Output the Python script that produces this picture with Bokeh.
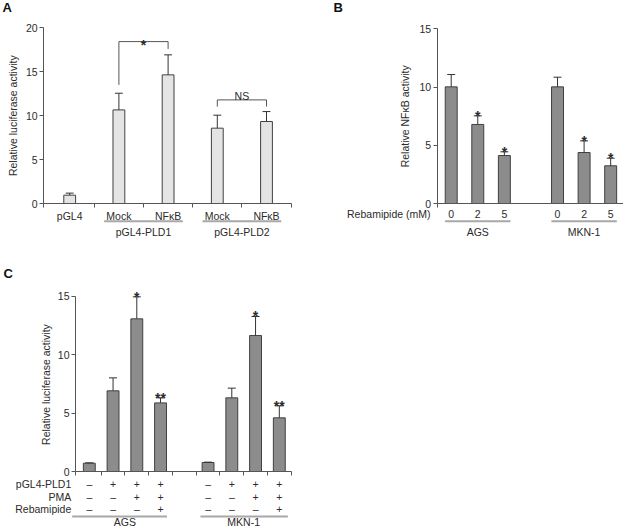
import numpy as np
from bokeh.plotting import figure
from bokeh.models import Range1d, FixedTicker, Spacer
from bokeh.layouts import row, column
from bokeh.core.properties import value
from bokeh.embed import file_html
from bokeh.resources import INLINE

# ---------------- data ----------------
# Panel A
a_labels = ["pGL4", "Mock", "NFκB", "Mock", "NFκB"]
a_pos = [0, 1, 2, 3, 4]
a_values = [0.95, 10.66, 14.65, 8.58, 9.34]
a_err_top = [1.18, 12.56, 16.93, 10.06, 10.47]
a_groups = ["pGL4-PLD1", "pGL4-PLD2"]
a_group_first = [1, 3]
a_group_last = [2, 4]
a_br_left = [1, 3]
a_br_right = [2, 4]
a_br_top = [18.44, 11.8]
a_br_left_bottom = [13.51, 11.04]
a_br_right_bottom = [17.6, 11.04]
a_br_text = ["*", "NS"]
a_yticks = [0, 5, 10, 15, 20]

# Panel B
b_doses = ["0", "2", "5", "0", "2", "5"]
b_pos = [0, 1, 2, 4, 5, 6]
b_values = [10.02, 6.79, 4.12, 10.02, 4.38, 3.24]
b_err_top = [11.08, 7.53, 4.44, 10.85, 5.38, 3.89]
b_marks = ["", "*", "*", "", "*", "*"]
b_groups = ["AGS", "MKN-1"]
b_group_first = [0, 4]
b_group_last = [2, 6]
b_yticks = [0, 5, 10, 15]

# Panel C
c_pos = [0, 1, 2, 3, 5, 6, 7, 8]
c_values = [0.71, 6.9, 13.06, 5.87, 0.77, 6.3, 11.63, 4.59]
c_err_top = [0.74, 8.01, 14.94, 6.3, 0.8, 7.13, 13.26, 5.62]
c_marks = ["", "", "*", "**", "", "", "*", "**"]
c_rows = ["pGL4-PLD1", "PMA", "Rebamipide"]
c_pld1 = ["–", "+", "+", "+", "–", "+", "+", "+"]
c_pma = ["–", "–", "+", "+", "–", "–", "+", "+"]
c_reb = ["–", "–", "–", "+", "–", "–", "–", "+"]
c_groups = ["AGS", "MKN-1"]
c_group_first = [0, 5]
c_group_last = [3, 8]
c_yticks = [0, 5, 10, 15]

# ---------------- style ----------------
FONT = "Liberation Sans"
AX = "#555555"
TXT = "#2b2b2b"
ERR = "#333333"
LIGHT_FILL = "#e4e4e4"
DARK_FILL = "#8c8c8c"
BAR_LINE = "#404040"
ULINE = "#a8a8a8"
STAR_SIZE = "14px"


def make_fig(w, h, x0_px, y0_px, xorig, ppx, yorig, ppy):
    """Frame covers the whole figure; ranges derived from the panel geometry."""
    x_start = (x0_px - xorig) / ppx
    x_end = (x0_px + w - xorig) / ppx
    y_end = (yorig - y0_px) / ppy
    y_start = (yorig - y0_px - h) / ppy
    p = figure(width=w, height=h, output_backend="svg", toolbar_location=None,
               x_range=Range1d(x_start, x_end), y_range=Range1d(y_start, y_end),
               min_border_left=0, min_border_right=0,
               min_border_top=0, min_border_bottom=0)
    p.xgrid.visible = False
    p.ygrid.visible = False
    p.outline_line_color = None
    p.background_fill_color = "white"
    p.border_fill_color = "white"
    return p, x_end


def style_axes(p, y_axis_at, x_end, xticks, yticks, ybounds):
    xa = p.xaxis[0]
    xa.fixed_location = 0
    xa.bounds = (y_axis_at, x_end)
    xa.ticker = FixedTicker(ticks=[], minor_ticks=xticks)
    xa.major_tick_out = 0
    xa.major_tick_in = 0
    xa.minor_tick_out = 4
    xa.minor_tick_in = 0
    xa.axis_line_color = AX
    xa.minor_tick_line_color = AX
    ya = p.yaxis[0]
    ya.fixed_location = y_axis_at
    ya.ticker = FixedTicker(ticks=yticks, minor_ticks=[])
    ya.bounds = ybounds
    ya.major_tick_out = 4
    ya.major_tick_in = 0
    ya.minor_tick_out = 0
    ya.minor_tick_in = 0
    ya.axis_line_color = AX
    ya.major_tick_line_color = AX
    ya.major_label_text_font = FONT
    ya.major_label_text_font_size = "10.5px"
    ya.major_label_text_color = TXT
    ya.major_label_standoff = 2


def bars_with_err(p, pos, vals, errs, width, fill, cap):
    p.vbar(x=pos, top=vals, bottom=0, width=width, fill_color=fill,
           line_color=BAR_LINE, line_width=1)
    p.segment(x0=pos, y0=vals, x1=pos, y1=errs, line_color=ERR, line_width=1)
    p.segment(x0=[x - cap for x in pos], y0=errs, x1=[x + cap for x in pos],
              y1=errs, line_color=ERR, line_width=1)


def txt(p, x, y, t, size="10.5px", align="center", baseline="middle",
        angle=0.0, bold=False, color=TXT):
    p.text(x=x, y=y, text=t, text_font=value(FONT), text_font_size=size,
           text_align=align, text_baseline=baseline, text_color=color,
           angle=angle, text_font_style="bold" if bold else "normal")


# ---------------- panel A ----------------
pA, a_xend = make_fig(305, 262, 0, 0, 69.2, 49.2, 203, 8.78)
style_axes(pA, -0.53, 4.5, [-0.53, 0.5, 1.5, 2.5, 3.5, 4.5], a_yticks, (0, 20))
bars_with_err(pA, a_pos, a_values, a_err_top, 0.24, LIGHT_FILL, 0.08)
pA.segment(x0=a_br_left, y0=a_br_top, x1=a_br_right, y1=a_br_top, line_color=AX, line_width=1)
pA.segment(x0=a_br_left, y0=a_br_left_bottom, x1=a_br_left, y1=a_br_top, line_color=AX, line_width=1)
pA.segment(x0=a_br_right, y0=a_br_right_bottom, x1=a_br_right, y1=a_br_top, line_color=AX, line_width=1)
br_mid = [(l + r) / 2 for l, r in zip(a_br_left, a_br_right)]
txt(pA, [br_mid[0]], [a_br_top[0] - 0.4], [a_br_text[0]], size=STAR_SIZE,
    baseline="alphabetic", bold=True)
txt(pA, [br_mid[1]], [a_br_top[1] + 0.46], [a_br_text[1]], baseline="alphabetic")
txt(pA, a_pos, [-1.37] * len(a_pos), a_labels)
pA.segment(x0=[f - 0.3 for f in a_group_first], y0=[-2.02] * 2,
           x1=[l + 0.3 for l in a_group_last], y1=[-2.02] * 2,
           line_color=ULINE, line_width=2)
txt(pA, [(f + l) / 2 for f, l in zip(a_group_first, a_group_last)], [-3.30] * 2, a_groups)
txt(pA, [-1.15], [10.0], ["Relative luciferase activity"], angle=np.pi / 2)
txt(pA, [-1.366], [22.27], ["A"], size="13px", align="left", bold=True, color="#111111")

# ---------------- panel B ----------------
pB, b_xend = make_fig(318, 262, 305, 0, 450.7, 26.58, 203, 11.64)
style_axes(pB, -0.53, b_xend, [-0.53], b_yticks, (0, 15))
bars_with_err(pB, b_pos, b_values, b_err_top, 0.45, DARK_FILL, 0.15)
txt(pB, b_pos, b_err_top, b_marks, size=STAR_SIZE, baseline="alphabetic", bold=True)
txt(pB, b_pos, [-0.86] * len(b_pos), b_doses)
pB.segment(x0=[f - 0.23 for f in b_group_first], y0=[-1.52] * 2,
           x1=[l + 0.23 for l in b_group_last], y1=[-1.52] * 2,
           line_color=ULINE, line_width=2)
txt(pB, [(f + l) / 2 for f, l in zip(b_group_first, b_group_last)], [-2.47] * 2, b_groups)
txt(pB, [-0.78], [-0.86], ["Rebamipide (mM)"], align="right")
txt(pB, [-1.72], [7.49], ["Relative NFκB activity"], angle=np.pi / 2)
txt(pB, [-4.43], [16.8], ["B"], size="13px", align="left", bold=True, color="#111111")

# ---------------- panel C ----------------
pC, c_xend = make_fig(305, 267, 0, 262, 88.8, 23.75, 471, 11.69)
style_axes(pC, -0.58, 8.51, [-0.58, 0.5, 1.5, 2.5, 3.5, 4.5, 5.5, 6.5, 7.5, 8.5],
           c_yticks, (0, 15))
bars_with_err(pC, c_pos, c_values, c_err_top, 0.5, DARK_FILL, 0.17)
txt(pC, c_pos, c_err_top, c_marks, size=STAR_SIZE, baseline="alphabetic", bold=True)
row_y = [-1.05, -2.22, -3.2]
for yy, signs in zip(row_y, [c_pld1, c_pma, c_reb]):
    txt(pC, c_pos, [yy] * len(c_pos), signs)
txt(pC, [-0.76] * 3, row_y, c_rows, align="right")
c_pad_left = [0.72, 0.32]
c_pad_right = [0.27, 0.36]
pC.segment(x0=[f - pl for f, pl in zip(c_group_first, c_pad_left)], y0=[-3.85] * 2,
           x1=[l + pr for l, pr in zip(c_group_last, c_pad_right)], y1=[-3.85] * 2,
           line_color=ULINE, line_width=2)
txt(pC, [(f + l) / 2 for f, l in zip(c_group_first, c_group_last)], [-4.36] * 2, c_groups)
txt(pC, [-1.84], [7.44], ["Relative luciferase activity"], angle=np.pi / 2)
txt(pC, [-3.61], [16.98], ["C"], size="13px", align="left", bold=True, color="#111111")

layout = column(row(pA, pB), row(pC, Spacer(width=318, height=267)))

open("out.html", "w").write(file_html(layout, INLINE))
